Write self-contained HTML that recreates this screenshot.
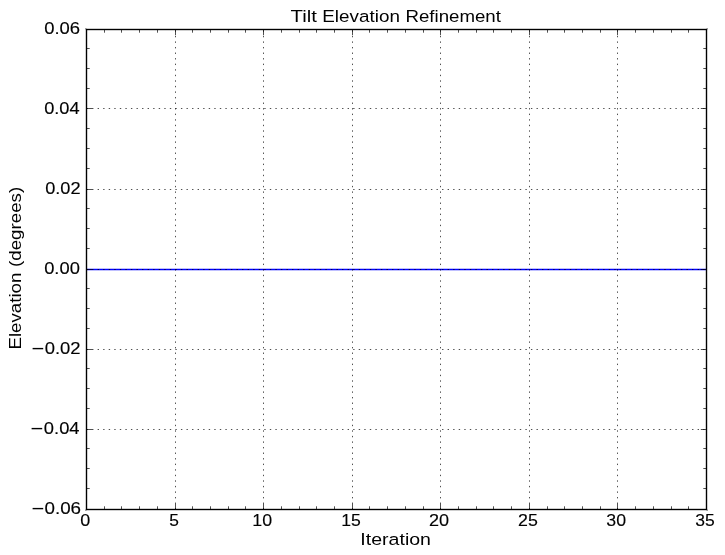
<!DOCTYPE html>
<html><head><meta charset="utf-8"><title>Tilt Elevation Refinement</title>
<style>html,body{margin:0;padding:0;background:#fff;}body{width:725px;height:555px;overflow:hidden;}svg{display:block;}text{font-family:"Liberation Sans",sans-serif;fill:#000;}</style>
</head><body>
<svg width="725" height="555" viewBox="0 0 725 555">
<rect x="0" y="0" width="725" height="555" fill="#ffffff"/>
<line x1="86.50" y1="269.50" x2="706.50" y2="269.50" stroke="#0000ff" stroke-width="1.39"/>
<g stroke="#000" stroke-width="0.69" stroke-dasharray="1.3889 4.1667" fill="none">
<line x1="175.50" y1="509.50" x2="175.50" y2="29.50"/>
<line x1="263.50" y1="509.50" x2="263.50" y2="29.50"/>
<line x1="352.50" y1="509.50" x2="352.50" y2="29.50"/>
<line x1="440.50" y1="509.50" x2="440.50" y2="29.50"/>
<line x1="529.50" y1="509.50" x2="529.50" y2="29.50"/>
<line x1="617.50" y1="509.50" x2="617.50" y2="29.50"/>
<line x1="86.50" y1="429.50" x2="706.50" y2="429.50"/>
<line x1="86.50" y1="349.50" x2="706.50" y2="349.50"/>
<line x1="86.50" y1="269.50" x2="706.50" y2="269.50"/>
<line x1="86.50" y1="189.50" x2="706.50" y2="189.50"/>
<line x1="86.50" y1="108.50" x2="706.50" y2="108.50"/>
</g>
<g stroke="#000" stroke-width="0.69" fill="none">
<line x1="86.50" y1="509.50" x2="86.50" y2="503.80"/>
<line x1="86.50" y1="29.50" x2="86.50" y2="35.20"/>
<line x1="104.50" y1="509.50" x2="104.50" y2="506.30"/>
<line x1="104.50" y1="29.50" x2="104.50" y2="32.70"/>
<line x1="121.50" y1="509.50" x2="121.50" y2="506.30"/>
<line x1="121.50" y1="29.50" x2="121.50" y2="32.70"/>
<line x1="139.50" y1="509.50" x2="139.50" y2="506.30"/>
<line x1="139.50" y1="29.50" x2="139.50" y2="32.70"/>
<line x1="157.50" y1="509.50" x2="157.50" y2="506.30"/>
<line x1="157.50" y1="29.50" x2="157.50" y2="32.70"/>
<line x1="175.50" y1="509.50" x2="175.50" y2="503.80"/>
<line x1="175.50" y1="29.50" x2="175.50" y2="35.20"/>
<line x1="192.50" y1="509.50" x2="192.50" y2="506.30"/>
<line x1="192.50" y1="29.50" x2="192.50" y2="32.70"/>
<line x1="210.50" y1="509.50" x2="210.50" y2="506.30"/>
<line x1="210.50" y1="29.50" x2="210.50" y2="32.70"/>
<line x1="228.50" y1="509.50" x2="228.50" y2="506.30"/>
<line x1="228.50" y1="29.50" x2="228.50" y2="32.70"/>
<line x1="245.50" y1="509.50" x2="245.50" y2="506.30"/>
<line x1="245.50" y1="29.50" x2="245.50" y2="32.70"/>
<line x1="263.50" y1="509.50" x2="263.50" y2="503.80"/>
<line x1="263.50" y1="29.50" x2="263.50" y2="35.20"/>
<line x1="281.50" y1="509.50" x2="281.50" y2="506.30"/>
<line x1="281.50" y1="29.50" x2="281.50" y2="32.70"/>
<line x1="299.50" y1="509.50" x2="299.50" y2="506.30"/>
<line x1="299.50" y1="29.50" x2="299.50" y2="32.70"/>
<line x1="316.50" y1="509.50" x2="316.50" y2="506.30"/>
<line x1="316.50" y1="29.50" x2="316.50" y2="32.70"/>
<line x1="334.50" y1="509.50" x2="334.50" y2="506.30"/>
<line x1="334.50" y1="29.50" x2="334.50" y2="32.70"/>
<line x1="352.50" y1="509.50" x2="352.50" y2="503.80"/>
<line x1="352.50" y1="29.50" x2="352.50" y2="35.20"/>
<line x1="369.50" y1="509.50" x2="369.50" y2="506.30"/>
<line x1="369.50" y1="29.50" x2="369.50" y2="32.70"/>
<line x1="387.50" y1="509.50" x2="387.50" y2="506.30"/>
<line x1="387.50" y1="29.50" x2="387.50" y2="32.70"/>
<line x1="405.50" y1="509.50" x2="405.50" y2="506.30"/>
<line x1="405.50" y1="29.50" x2="405.50" y2="32.70"/>
<line x1="423.50" y1="509.50" x2="423.50" y2="506.30"/>
<line x1="423.50" y1="29.50" x2="423.50" y2="32.70"/>
<line x1="440.50" y1="509.50" x2="440.50" y2="503.80"/>
<line x1="440.50" y1="29.50" x2="440.50" y2="35.20"/>
<line x1="458.50" y1="509.50" x2="458.50" y2="506.30"/>
<line x1="458.50" y1="29.50" x2="458.50" y2="32.70"/>
<line x1="476.50" y1="509.50" x2="476.50" y2="506.30"/>
<line x1="476.50" y1="29.50" x2="476.50" y2="32.70"/>
<line x1="493.50" y1="509.50" x2="493.50" y2="506.30"/>
<line x1="493.50" y1="29.50" x2="493.50" y2="32.70"/>
<line x1="511.50" y1="509.50" x2="511.50" y2="506.30"/>
<line x1="511.50" y1="29.50" x2="511.50" y2="32.70"/>
<line x1="529.50" y1="509.50" x2="529.50" y2="503.80"/>
<line x1="529.50" y1="29.50" x2="529.50" y2="35.20"/>
<line x1="547.50" y1="509.50" x2="547.50" y2="506.30"/>
<line x1="547.50" y1="29.50" x2="547.50" y2="32.70"/>
<line x1="564.50" y1="509.50" x2="564.50" y2="506.30"/>
<line x1="564.50" y1="29.50" x2="564.50" y2="32.70"/>
<line x1="582.50" y1="509.50" x2="582.50" y2="506.30"/>
<line x1="582.50" y1="29.50" x2="582.50" y2="32.70"/>
<line x1="600.50" y1="509.50" x2="600.50" y2="506.30"/>
<line x1="600.50" y1="29.50" x2="600.50" y2="32.70"/>
<line x1="617.50" y1="509.50" x2="617.50" y2="503.80"/>
<line x1="617.50" y1="29.50" x2="617.50" y2="35.20"/>
<line x1="635.50" y1="509.50" x2="635.50" y2="506.30"/>
<line x1="635.50" y1="29.50" x2="635.50" y2="32.70"/>
<line x1="653.50" y1="509.50" x2="653.50" y2="506.30"/>
<line x1="653.50" y1="29.50" x2="653.50" y2="32.70"/>
<line x1="671.50" y1="509.50" x2="671.50" y2="506.30"/>
<line x1="671.50" y1="29.50" x2="671.50" y2="32.70"/>
<line x1="688.50" y1="509.50" x2="688.50" y2="506.30"/>
<line x1="688.50" y1="29.50" x2="688.50" y2="32.70"/>
<line x1="706.50" y1="509.50" x2="706.50" y2="503.80"/>
<line x1="706.50" y1="29.50" x2="706.50" y2="35.20"/>
<line x1="86.50" y1="509.50" x2="92.20" y2="509.50"/>
<line x1="706.50" y1="509.50" x2="700.80" y2="509.50"/>
<line x1="86.50" y1="488.50" x2="89.70" y2="488.50"/>
<line x1="706.50" y1="488.50" x2="703.30" y2="488.50"/>
<line x1="86.50" y1="468.50" x2="89.70" y2="468.50"/>
<line x1="706.50" y1="468.50" x2="703.30" y2="468.50"/>
<line x1="86.50" y1="448.50" x2="89.70" y2="448.50"/>
<line x1="706.50" y1="448.50" x2="703.30" y2="448.50"/>
<line x1="86.50" y1="429.50" x2="92.20" y2="429.50"/>
<line x1="706.50" y1="429.50" x2="700.80" y2="429.50"/>
<line x1="86.50" y1="408.50" x2="89.70" y2="408.50"/>
<line x1="706.50" y1="408.50" x2="703.30" y2="408.50"/>
<line x1="86.50" y1="388.50" x2="89.70" y2="388.50"/>
<line x1="706.50" y1="388.50" x2="703.30" y2="388.50"/>
<line x1="86.50" y1="368.50" x2="89.70" y2="368.50"/>
<line x1="706.50" y1="368.50" x2="703.30" y2="368.50"/>
<line x1="86.50" y1="349.50" x2="92.20" y2="349.50"/>
<line x1="706.50" y1="349.50" x2="700.80" y2="349.50"/>
<line x1="86.50" y1="328.50" x2="89.70" y2="328.50"/>
<line x1="706.50" y1="328.50" x2="703.30" y2="328.50"/>
<line x1="86.50" y1="308.50" x2="89.70" y2="308.50"/>
<line x1="706.50" y1="308.50" x2="703.30" y2="308.50"/>
<line x1="86.50" y1="288.50" x2="89.70" y2="288.50"/>
<line x1="706.50" y1="288.50" x2="703.30" y2="288.50"/>
<line x1="86.50" y1="269.50" x2="92.20" y2="269.50"/>
<line x1="706.50" y1="269.50" x2="700.80" y2="269.50"/>
<line x1="86.50" y1="248.50" x2="89.70" y2="248.50"/>
<line x1="706.50" y1="248.50" x2="703.30" y2="248.50"/>
<line x1="86.50" y1="228.50" x2="89.70" y2="228.50"/>
<line x1="706.50" y1="228.50" x2="703.30" y2="228.50"/>
<line x1="86.50" y1="208.50" x2="89.70" y2="208.50"/>
<line x1="706.50" y1="208.50" x2="703.30" y2="208.50"/>
<line x1="86.50" y1="189.50" x2="92.20" y2="189.50"/>
<line x1="706.50" y1="189.50" x2="700.80" y2="189.50"/>
<line x1="86.50" y1="168.50" x2="89.70" y2="168.50"/>
<line x1="706.50" y1="168.50" x2="703.30" y2="168.50"/>
<line x1="86.50" y1="148.50" x2="89.70" y2="148.50"/>
<line x1="706.50" y1="148.50" x2="703.30" y2="148.50"/>
<line x1="86.50" y1="128.50" x2="89.70" y2="128.50"/>
<line x1="706.50" y1="128.50" x2="703.30" y2="128.50"/>
<line x1="86.50" y1="108.50" x2="92.20" y2="108.50"/>
<line x1="706.50" y1="108.50" x2="700.80" y2="108.50"/>
<line x1="86.50" y1="88.50" x2="89.70" y2="88.50"/>
<line x1="706.50" y1="88.50" x2="703.30" y2="88.50"/>
<line x1="86.50" y1="68.50" x2="89.70" y2="68.50"/>
<line x1="706.50" y1="68.50" x2="703.30" y2="68.50"/>
<line x1="86.50" y1="48.50" x2="89.70" y2="48.50"/>
<line x1="706.50" y1="48.50" x2="703.30" y2="48.50"/>
<line x1="86.50" y1="29.50" x2="92.20" y2="29.50"/>
<line x1="706.50" y1="29.50" x2="700.80" y2="29.50"/>
</g>
<rect x="86.50" y="29.50" width="620.00" height="480.00" fill="none" stroke="#000" stroke-width="1.39"/>
<rect x="85.41" y="28.41" width="0.90" height="0.90" fill="#000"/>
<rect x="706.70" y="28.41" width="0.90" height="0.90" fill="#000"/>
<rect x="85.41" y="509.69" width="0.90" height="0.90" fill="#000"/>
<rect x="706.70" y="509.69" width="0.90" height="0.90" fill="#000"/>
<g opacity="0.999">
<text transform="translate(80.36,525.75) scale(1.0788,1.0000)" font-size="16.67" stroke="#000" stroke-width="0.15">0</text>
<text transform="translate(169.28,525.75) scale(1.0424,1.0000)" font-size="16.67" stroke="#000" stroke-width="0.15">5</text>
<text transform="translate(252.26,525.75) scale(1.0687,1.0000)" font-size="16.67" stroke="#000" stroke-width="0.15">10</text>
<text transform="translate(341.23,525.75) scale(1.0567,1.0000)" font-size="16.67" stroke="#000" stroke-width="0.15">15</text>
<text transform="translate(428.99,525.75) scale(1.0841,1.0000)" font-size="16.67" stroke="#000" stroke-width="0.15">20</text>
<text transform="translate(518.00,525.75) scale(1.0667,1.0000)" font-size="16.67" stroke="#000" stroke-width="0.15">25</text>
<text transform="translate(606.37,525.75) scale(1.0629,1.0000)" font-size="16.67" stroke="#000" stroke-width="0.15">30</text>
<text transform="translate(695.27,525.75) scale(1.0514,1.0000)" font-size="16.67" stroke="#000" stroke-width="0.15">35</text>
<text transform="translate(44.15,33.75) scale(1.1072,1.0000)" font-size="16.67" stroke="#000" stroke-width="0.15">0.06</text>
<text transform="translate(44.15,113.75) scale(1.0952,1.0000)" font-size="16.67" stroke="#000" stroke-width="0.15">0.04</text>
<text transform="translate(45.15,193.75) scale(1.0912,1.0000)" font-size="16.67" stroke="#000" stroke-width="0.15">0.02</text>
<text transform="translate(44.15,273.75) scale(1.1016,1.0000)" font-size="16.67" stroke="#000" stroke-width="0.15">0.00</text>
<text transform="translate(44.65,353.75) scale(1.1072,1.0000)" font-size="16.67" stroke="#000" stroke-width="0.15">0.02</text>
<rect x="32.60" y="347.90" width="10.60" height="1.4" fill="#000"/>
<text transform="translate(43.85,433.75) scale(1.1016,1.0000)" font-size="16.67" stroke="#000" stroke-width="0.15">0.04</text>
<rect x="31.60" y="427.90" width="10.60" height="1.4" fill="#000"/>
<text transform="translate(44.44,513.75) scale(1.1296,1.0000)" font-size="16.67" stroke="#000" stroke-width="0.15">0.06</text>
<rect x="32.60" y="507.90" width="10.60" height="1.4" fill="#000"/>
<text transform="translate(290.59,21.75) scale(1.2235,1.0000)" font-size="16.67">Tilt</text>
<text transform="translate(322.28,21.75) scale(1.1321,1.0000)" font-size="16.67">Elevation</text>
<text transform="translate(405.50,21.75) scale(1.1202,1.0000)" font-size="16.67">Refinement</text>
<text transform="translate(360.34,544.75) scale(1.1740,1.0000)" font-size="16.67">Iteration</text>
<text transform="translate(20.75,349.60) rotate(-90) scale(1.1230,1.0000)" font-size="16.67">Elevation</text>
<text transform="translate(20.75,267.02) rotate(-90) scale(1.1249,1.0000)" font-size="16.67">(degrees)</text>
</g>
</svg>
</body></html>
